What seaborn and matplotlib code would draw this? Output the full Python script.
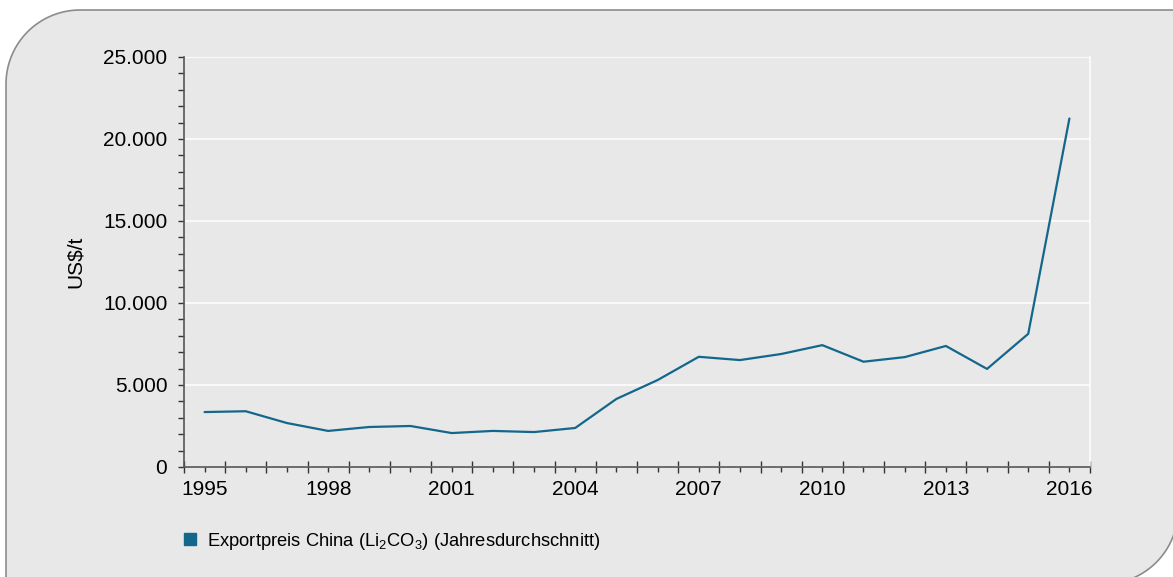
import numpy as np
import pandas as pd
import matplotlib
matplotlib.use("Agg")
import matplotlib.pyplot as plt
import matplotlib.ticker as mticker
from matplotlib.patches import Polygon
from matplotlib.lines import Line2D
import seaborn as sns

# Exportpreis China Li2CO3, Jahresdurchschnitt (US$/t)
years = list(range(1995, 2017))
prices = [3350, 3400, 2680, 2200, 2440, 2500, 2070, 2200, 2130, 2380,
          4150, 5300, 6720, 6520, 6890, 7430, 6420, 6700, 7380, 5980,
          8120, 21250]
label_years = [1995, 1998, 2001, 2004, 2007, 2010, 2013, 2016]
series_name = "Exportpreis China (Li$_2$CO$_3$) (Jahresdurchschnitt)"

line_col = "#13678a"
panel_col = "#e8e8e8"

sns.set_style("white")
plt.rcParams["font.family"] = ["Liberation Sans", "DejaVu Sans"]
plt.rcParams["mathtext.fontset"] = "custom"
plt.rcParams["mathtext.rm"] = "Liberation Sans"
plt.rcParams["mathtext.it"] = "Liberation Sans"
plt.rcParams["text.color"] = "black"
plt.rcParams["axes.labelcolor"] = "black"

df = pd.DataFrame({"Jahr": years, "Preis": prices})

W, H = 1173, 577
fig = plt.figure(figsize=(W / 100, H / 100), dpi=100, facecolor="white")


def panel_outline(left=6, top=10, right=1178, bottom=584, r=74, n=30):
    # grey panel: rounded top-left and bottom-right corners (pixel coords, y down)
    t = np.linspace(np.pi, 1.5 * np.pi, n)
    tl = np.c_[left + r + r * np.cos(t), top + r + r * np.sin(t)]
    t = np.linspace(0, 0.5 * np.pi, n)
    br = np.c_[right - r + r * np.cos(t), bottom - r + r * np.sin(t)]
    pts = np.vstack([tl, [[right + 30, top]], br, [[left, bottom + 30]]])
    return np.c_[pts[:, 0] / 100, (H - pts[:, 1]) / 100]


fig.patches.append(Polygon(panel_outline(), closed=True,
                           transform=fig.dpi_scale_trans, facecolor=panel_col,
                           edgecolor="#8c8c8c", linewidth=1.2, zorder=-5))

ax = fig.add_axes([184 / W, 1 - 467 / H, (1090 - 184) / W, (467 - 57) / H])
ax.set_facecolor("none")

sns.lineplot(data=df, x="Jahr", y="Preis", ax=ax, color=line_col, linewidth=1.6,
             zorder=3)

ax.set_xlim(1994.5, 2016.5)
ax.set_ylim(0, 25000)

# y axis
ax.yaxis.set_major_locator(mticker.MultipleLocator(5000))
ax.yaxis.set_minor_locator(mticker.MultipleLocator(1000))
ax.yaxis.set_major_formatter(mticker.FuncFormatter(lambda v, p: f"{v:,.0f}".replace(",", ".")))
ax.grid(axis="y", color="white", linewidth=1.1, zorder=1)
ax.set_axisbelow(True)

# x axis: labels at year centres, long ticks at year boundaries
ax.set_xticks(years)
ax.set_xticklabels([str(y) if y in label_years else "" for y in years])
ax.set_xticks(np.arange(1994.5, 2017, 1), minor=True)

ax.tick_params(axis="y", which="both", left=True, direction="out", length=4,
               width=1, color="#333333", labelsize=15, pad=8, labelcolor="black")
ax.tick_params(axis="x", which="major", bottom=True, direction="out", length=3.5,
               width=1, color="#333333", labelsize=15, pad=6, labelcolor="black")
ax.tick_params(axis="x", which="minor", bottom=True, direction="inout", length=8.5,
               width=1, color="#333333")

for s in ["left", "bottom"]:
    ax.spines[s].set_color("#555555")
    ax.spines[s].set_linewidth(1.2)
ax.spines["top"].set_visible(False)
ax.spines["right"].set_color("white")
ax.spines["right"].set_linewidth(1.1)

ax.set_xlabel("")
ax.set_ylabel("US\\$/t", fontsize=15, labelpad=13)

handle = Line2D([], [], marker="s", linestyle="none", color=line_col, markersize=8)
fig.legend([handle], [series_name], loc="center left",
           bbox_to_anchor=(173 / W, 1 - 541 / H), frameon=False,
           fontsize=13.2, handletextpad=0.45, handlelength=1.0, borderaxespad=0)

fig.savefig("out.png", dpi=100, facecolor="white")
